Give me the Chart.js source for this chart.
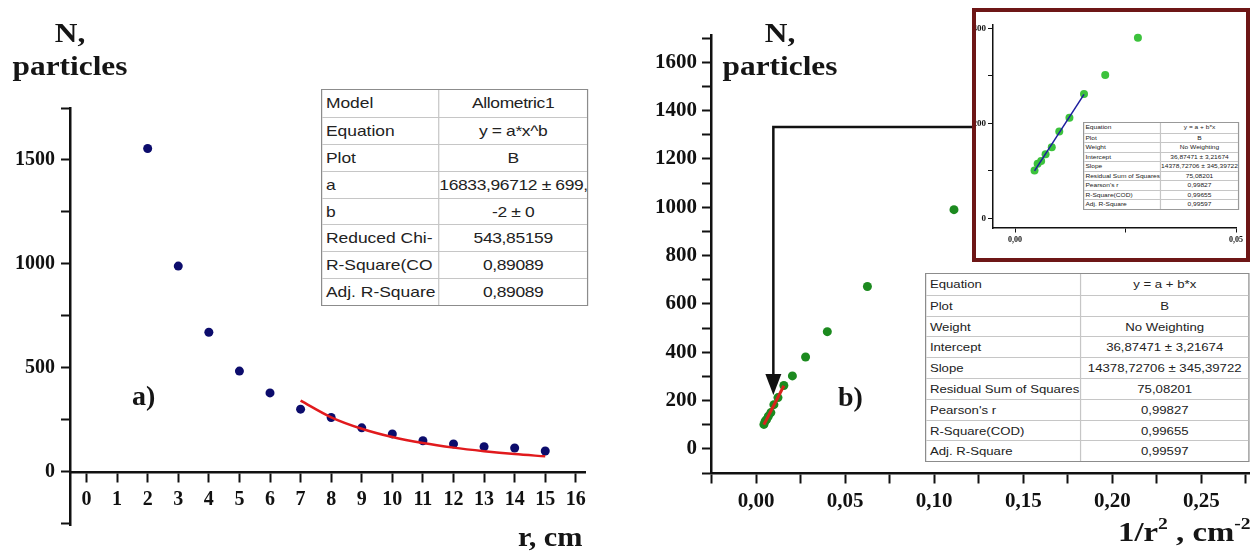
<!DOCTYPE html>
<html>
<head>
<meta charset="utf-8">
<script src="https://cdn.jsdelivr.net/npm/chart.js@4.4.0/dist/chart.umd.min.js"></script>
<style>
  html, body { margin: 0; padding: 0; background: #fff; }
  body { width: 1254px; height: 551px; position: relative; overflow: hidden; }
  .box { position: absolute; }
  .lbl { position: absolute; font-family: "Liberation Serif", "Times New Roman", serif; font-weight: bold;
         font-size: 28px; line-height: 28px; color: #151515; white-space: nowrap; transform-origin: 0 0; }
  .ylab { text-align: center; line-height: 33px; width: 150px; transform: scaleX(1.12); transform-origin: 50% 0; }
  .lbl sup { font-size: 60%; line-height: 0; vertical-align: 0.7em; }
  #inset { position: absolute; left: 972px; top: 8px; width: 278px; height: 254px; box-sizing: border-box;
           border: 4px solid #6d1616; background: #fff; overflow: hidden; }
  .tbl { position: absolute; box-sizing: border-box; background: #fff; border: 1.5px solid #8c8c8c;
         font-family: "Liberation Sans", Arial, sans-serif; color: #222; transform-origin: 0 0; }
  .row { display: flex; box-sizing: border-box; border-top: 1px solid #c6c6c6; }
  .row:first-child { border-top: none; }
  .c1 { box-sizing: border-box; border-right: 1px solid #c6c6c6; padding-left: 3px; overflow: hidden; white-space: nowrap; }
  .c2 { flex: 1; text-align: center; overflow: hidden; white-space: nowrap; }
  #tblA { left: 321px; top: 89px; width: 219px; font-size: 14.3px; transform: scaleX(1.22); }
  #tblA .row { height: 26.9px; line-height: 26px; }
  #tblA .c1 { width: 96px; }
  #tblA .c2 { letter-spacing: -0.3px; }
  #tblB { left: 925px; top: 273px; width: 266px; font-size: 10.8px; transform: scaleX(1.22); }
  #tblB .row { height: 20.8px; line-height: 20px; }
  #tblB .c1 { width: 127px; }
  #tblC { left: 1083px; top: 122px; width: 128px; font-size: 5.4px; transform: scaleX(1.22); border: 1px solid #999; }
  #tblC .row { height: 9.5px; line-height: 9px; }
  #tblC .c1 { width: 63px; padding-left: 1px; }
</style>
</head>
<body>
<div class="box" style="left:0;top:0;width:620px;height:551px"><canvas id="chartA"></canvas></div>
<div class="box" style="left:620px;top:0;width:634px;height:551px"><canvas id="chartB"></canvas></div>
<div id="inset"><canvas id="chartC"></canvas></div>

<div class="lbl ylab" style="left:-5px;top:16px">N,<br>particles</div>
<div class="lbl" style="left:132px;top:382px">a)</div>
<div class="lbl" style="left:518px;top:523px;transform:scaleX(1.08)">r, cm</div>

<div class="lbl ylab" style="left:705px;top:16px">N,<br>particles</div>
<div class="lbl" style="left:838px;top:383px">b)</div>
<div class="lbl" style="left:1118px;top:518px;transform:scaleX(1.17)">1/r<sup>2</sup> , cm<sup>-2</sup></div>

<div class="tbl" id="tblA"></div>
<div class="tbl" id="tblB"></div>
<div class="tbl" id="tblC"></div>

<script>
// ---------- данные ----------
const radius = [2, 3, 4, 5, 6, 7, 8, 9, 10, 11, 12, 13, 14, 15];
const particles = [1555, 990, 672, 485, 380, 302, 262, 212, 183, 150, 135, 121, 115, 101];
const invR2 = [0.25, 0.1111, 0.0625, 0.04, 0.0278, 0.0204, 0.0156, 0.0123, 0.01, 0.0083, 0.0069, 0.0059, 0.0051, 0.0044];

// allometric fit (red curve, panel a)
const fitAX = [7, 8, 9, 10, 11, 12, 13, 14, 15];
const fitAY = [343, 263, 208, 168, 139, 117, 100, 86, 75];

// linear fit (panel b and inset)
const fitBX = [0.0044, 0.0156];
const fitBY = [100, 261];

// tick positions
const ticksAX = [0, 1, 2, 3, 4, 5, 6, 7, 8, 9, 10, 11, 12, 13, 14, 15, 16];
const ticksAY = [-250, 0, 250, 500, 750, 1000, 1250, 1500, 1750];
const ticksBX = [-0.025, 0, 0.025, 0.05, 0.075, 0.1, 0.125, 0.15, 0.175, 0.2, 0.225, 0.25, 0.275];
const ticksBY = [-100, 0, 100, 200, 300, 400, 500, 600, 700, 800, 900, 1000, 1100, 1200, 1300, 1400, 1500, 1600, 1700];
const ticksCX = [0, 0.025, 0.05];
const ticksCY = [0, 100, 200, 300, 400];

// arrow from the inset to the fitted part (data units of panel b)
const arrowX = 0.0097;
const arrowTopY = 1332;
const arrowTipY = 223;
const arrowEndX = 0.13;

const tableA = [
  ["Model", "Allometric1"],
  ["Equation", "y = a*x^b"],
  ["Plot", "B"],
  ["a", "16833,96712 ± 699,8"],
  ["b", "-2 ± 0"],
  ["Reduced Chi-", "543,85159"],
  ["R-Square(CO", "0,89089"],
  ["Adj. R-Square", "0,89089"],
];
const tableB = [
  ["Equation", "y = a + b*x"],
  ["Plot", "B"],
  ["Weight", "No Weighting"],
  ["Intercept", "36,87471 ± 3,21674"],
  ["Slope", "14378,72706 ± 345,39722"],
  ["Residual Sum of Squares", "75,08201"],
  ["Pearson's r", "0,99827"],
  ["R-Square(COD)", "0,99655"],
  ["Adj. R-Square", "0,99597"],
];

function buildTable(id, rows) {
  document.getElementById(id).innerHTML = rows
    .map((r) => `<div class="row"><div class="c1">${r[0]}</div><div class="c2">${r[1]}</div></div>`)
    .join("");
}
buildTable("tblA", tableA);
buildTable("tblB", tableB);
buildTable("tblC", tableB);

function toPoints(xs, ys) {
  return xs.map((x, i) => ({ x, y: ys[i] }));
}

function fixedTicks(values) {
  return (scale) => {
    scale.ticks = values.map((value) => ({ value }));
  };
}

Chart.defaults.font.family = "'Liberation Serif', 'Times New Roman', serif";
Chart.defaults.font.weight = "bold";
Chart.defaults.color = "#111";

function axis(opts) {
  return Object.assign(
    {
      type: "linear",
      border: { display: true, color: "#111", width: 2.5 },
      grid: { display: true, drawOnChartArea: false, drawTicks: true, tickLength: 9, tickWidth: 2, tickColor: "#111" },
    },
    opts
  );
}

const common = {
  responsive: true,
  maintainAspectRatio: false,
  animation: false,
  plugins: { legend: { display: false }, tooltip: { enabled: false } },
};

const commaLabel = (v) => (v >= -0.001 && Math.round(v * 1000) % 50 === 0 ? v.toFixed(2).replace(".", ",") : "");

// ---------- панель a ----------
new Chart(document.getElementById("chartA"), {
  type: "scatter",
  data: {
    datasets: [
      {
        type: "line",
        data: toPoints(fitAX, fitAY),
        borderColor: "#e11a1d",
        borderWidth: 2.5,
        pointRadius: 0,
        cubicInterpolationMode: "monotone",
        fill: false,
        order: 0,
      },
      {
        data: toPoints(radius, particles),
        backgroundColor: "#0c0c6c",
        borderWidth: 0,
        pointRadius: 4.5,
        order: 1,
      },
    ],
  },
  options: Object.assign({}, common, {
    layout: { padding: { left: 0, top: 108, right: 35, bottom: 26 } },
    scales: {
      x: axis({
        position: { y: 0 },
        min: -0.54,
        max: 16.3,
        afterFit: (s) => { s.height = 0; },
        afterBuildTicks: fixedTicks(ticksAX),
        ticks: { autoSkip: false, maxRotation: 0, padding: 7, font: { size: 20 } },
      }),
      y: axis({
        position: "left",
        min: -255,
        max: 1750,
        afterFit: (s) => { s.width = 70; },
        afterBuildTicks: fixedTicks(ticksAY),
        ticks: {
          autoSkip: false,
          padding: 6,
          font: { size: 20 },
          callback: (v) => (v >= 0 && v % 500 === 0 ? v : ""),
        },
      }),
    },
  }),
});

// ---------- панель b ----------
const arrowPlugin = {
  id: "arrow",
  afterDatasetsDraw(chart) {
    const { ctx, scales } = chart;
    const px = scales.x.getPixelForValue(arrowX);
    const top = scales.y.getPixelForValue(arrowTopY);
    const tip = scales.y.getPixelForValue(arrowTipY);
    const right = scales.x.getPixelForValue(arrowEndX);
    ctx.save();
    ctx.strokeStyle = "#111";
    ctx.lineWidth = 2.5;
    ctx.beginPath();
    ctx.moveTo(right, top);
    ctx.lineTo(px, top);
    ctx.lineTo(px, tip - 16);
    ctx.stroke();
    ctx.fillStyle = "#111";
    ctx.beginPath();
    ctx.moveTo(px - 8, tip - 21);
    ctx.lineTo(px + 8, tip - 21);
    ctx.lineTo(px, tip);
    ctx.closePath();
    ctx.fill();
    ctx.restore();
  },
};

new Chart(document.getElementById("chartB"), {
  type: "scatter",
  data: {
    datasets: [
      {
        type: "line",
        data: toPoints(fitBX, fitBY),
        borderColor: "#d8231c",
        borderWidth: 3,
        pointRadius: 0,
        fill: false,
        order: 0,
      },
      {
        data: toPoints(invR2, particles),
        backgroundColor: "#1c8a1f",
        borderWidth: 0,
        pointRadius: 4.5,
        order: 1,
      },
    ],
  },
  options: Object.assign({}, common, {
    layout: { padding: { left: 0, top: 35, right: 0, bottom: 78 } },
    scales: {
      x: axis({
        position: { y: -100 },
        min: -0.0253,
        max: 0.277,
        afterFit: (s) => { s.height = 0; },
        afterBuildTicks: fixedTicks(ticksBX),
        ticks: { autoSkip: false, maxRotation: 0, padding: 7, font: { size: 21 }, callback: commaLabel },
      }),
      y: axis({
        position: "left",
        min: -100,
        max: 1713,
        afterFit: (s) => { s.width = 91; },
        afterBuildTicks: fixedTicks(ticksBY),
        ticks: {
          autoSkip: false,
          padding: 5,
          font: { size: 21 },
          callback: (v) => (v >= 0 && v % 200 === 0 ? v : ""),
        },
      }),
    },
  }),
  plugins: [arrowPlugin],
});

// ---------- вставка ----------
new Chart(document.getElementById("chartC"), {
  type: "scatter",
  data: {
    datasets: [
      {
        type: "line",
        data: toPoints(fitBX, fitBY),
        borderColor: "#1d1d9e",
        borderWidth: 1.5,
        pointRadius: 0,
        fill: false,
        order: 0,
      },
      {
        data: toPoints(invR2, particles),
        backgroundColor: "#3cc23c",
        borderWidth: 0,
        pointRadius: 4,
        order: 1,
      },
    ],
  },
  options: Object.assign({}, common, {
    layout: { padding: { left: 0, top: 13, right: 1, bottom: 30 } },
    scales: {
      x: axis({
        position: { y: -20 },
        min: -0.005,
        max: 0.05,
        afterFit: (s) => { s.height = 0; },
        afterBuildTicks: fixedTicks(ticksCX),
        border: { display: true, color: "#111", width: 1.5 },
        grid: { display: true, drawOnChartArea: false, drawTicks: true, tickLength: 4, tickWidth: 1, tickColor: "#111" },
        ticks: { autoSkip: false, maxRotation: 0, padding: 3, font: { size: 8 }, callback: commaLabel },
      }),
      y: axis({
        position: "left",
        min: -20,
        max: 407,
        afterFit: (s) => { s.width = 17; },
        afterBuildTicks: fixedTicks(ticksCY),
        border: { display: true, color: "#111", width: 1.5 },
        grid: { display: true, drawOnChartArea: false, drawTicks: true, tickLength: 5, tickWidth: 1, tickColor: "#111" },
        ticks: {
          autoSkip: false,
          padding: 2,
          font: { size: 9 },
          callback: (v) => (v >= 0 && v % 200 === 0 ? v : ""),
        },
      }),
    },
  }),
});
</script>
</body>
</html>
